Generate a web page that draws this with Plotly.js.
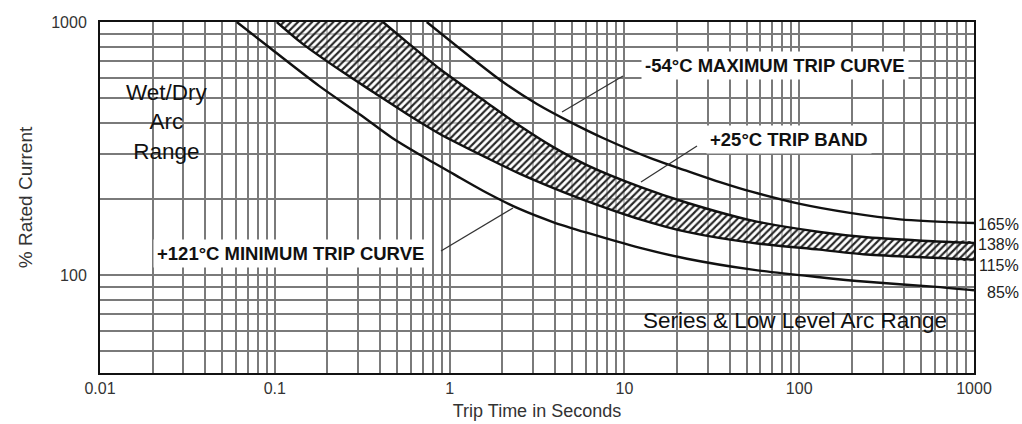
<!DOCTYPE html>
<html>
<head>
<meta charset="utf-8">
<script src="https://cdn.plot.ly/plotly-3.0.1.min.js"></script>
<style>
  html, body { margin: 0; padding: 0; background: #ffffff; }
  #chart { width: 1022px; height: 424px; }
</style>
</head>
<body>
<div id="chart"></div>
<script>
// ---- Data (trip time in s, % rated current) ----
const minT  = [0.0606, 0.094, 0.18, 0.31, 0.47, 0.68, 1.05, 1.64, 2.53, 3.9, 6.1, 12.3, 22.8, 54, 131, 244, 583, 1000];
const minI  = [1000, 789, 558, 429, 348, 298, 251, 211, 182, 162, 147, 128, 116, 105, 98, 94, 90, 87];

const lowT  = [0.1026, 0.145, 0.245, 0.365, 0.57, 0.88, 1.64, 2.53, 3.9, 6.1, 12.3, 22.8, 54, 131, 244, 583, 1000];
const lowI  = [1000, 818, 634, 529, 433, 361, 290, 251, 221, 196, 166, 148, 134, 126, 120.5, 117, 115];

const upT   = [0.416, 0.57, 0.88, 1.64, 2.53, 3.9, 6.1, 12.3, 22.8, 54, 131, 244, 583, 1000];
const upI   = [1000, 833, 652, 479, 388, 321, 272, 223, 193, 164, 148, 141, 136, 134];

const maxT  = [0.74, 1.36, 2.02, 3.16, 4.88, 7.54, 14.6, 22.8, 35.2, 54, 101, 195, 377, 1000];
const maxI  = [1000, 714, 579, 474, 403, 348, 287, 258, 233, 213, 191, 176, 166, 160.5];

const xTickDecades = [0.01, 0.1, 1, 10, 100, 1000];
const xTickLabels  = ['0.01', '0.1', '1', '10', '100', '1000'];
const yTickDecades = [100, 1000];
const yTickLabels  = ['100', '1000'];
const endLabels    = ['165%', '138%', '115%', '85%'];
const curveLabels  = ['-54°C MAXIMUM TRIP CURVE', '+25°C TRIP BAND', '+121°C MINIMUM TRIP CURVE'];
const regionLabels = ['Wet/Dry<br>Arc<br>Range', 'Series &amp; Low Level Arc Range'];

// ---- grid tick builders (1..9 multiples per decade) ----
function logGrid(minExp, maxExp, lo, hi) {
  const v = [];
  for (let e = minExp; e <= maxExp; e++) {
    for (let m = 1; m <= 9; m++) {
      const val = m * Math.pow(10, e);
      if (val >= lo * 0.999 && val <= hi * 1.001) v.push(+val.toPrecision(3));
    }
  }
  return v;
}
function labelsFor(vals, decades, labels) {
  return vals.map(v => {
    const i = decades.findIndex(d => Math.abs(d - v) / d < 1e-6);
    return i >= 0 ? labels[i] : '';
  });
}
const xVals = logGrid(-2, 3, 0.01, 1000);
const yVals = logGrid(1, 3, 50, 1000);

const FONT = 'Arial, "Liberation Sans", "Helvetica", sans-serif';
const curveLine = { color: '#111', width: 2.4, shape: 'spline', smoothing: 0.8 };

const bandX = lowT.concat(upT.slice().reverse());
const bandY = lowI.concat(upI.slice().reverse());

const traces = [
  { x: bandX, y: bandY, type: 'scatter', mode: 'lines', fill: 'toself',
    fillcolor: 'rgba(255,255,255,0)',
    fillpattern: { shape: '/', fgcolor: '#262626', bgcolor: 'rgba(255,255,255,0.55)', size: 5, solidity: 0.42 },
    line: { width: 0, shape: 'spline', smoothing: 0.8 }, hoverinfo: 'skip', showlegend: false },
  { x: minT, y: minI, type: 'scatter', mode: 'lines', line: curveLine, name: '+121°C minimum', showlegend: false },
  { x: lowT, y: lowI, type: 'scatter', mode: 'lines', line: curveLine, name: '+25°C band low', showlegend: false },
  { x: upT,  y: upI,  type: 'scatter', mode: 'lines', line: curveLine, name: '+25°C band high', showlegend: false },
  { x: maxT, y: maxI, type: 'scatter', mode: 'lines', line: curveLine, name: '-54°C maximum', showlegend: false }
];

// pixel -> paper helpers for annotation placement (plot area 100..974 x, 22..373 y)
const L = 100, R = 48, T = 22, B = 51, W = 1022, H = 424;
const PW = W - L - R, PH = H - T - B;
const px = x => (x - L) / PW;
const py = y => (H - B - y) / PH;

const boldFont = { family: FONT, size: 18.5, color: '#111', weight: 'bold' };
const annotations = [
  { text: curveLabels[0], x: px(641), y: py(65), xref: 'paper', yref: 'paper', xanchor: 'left', yanchor: 'middle',
    showarrow: false, font: boldFont, bgcolor: '#ffffff', borderpad: 3 },
  { text: curveLabels[1], x: px(706), y: py(139), xref: 'paper', yref: 'paper', xanchor: 'left', yanchor: 'middle',
    showarrow: false, font: boldFont, bgcolor: '#ffffff', borderpad: 3 },
  { text: curveLabels[2], x: px(153), y: py(254), xref: 'paper', yref: 'paper', xanchor: 'left', yanchor: 'middle',
    showarrow: false, font: boldFont, bgcolor: '#ffffff', borderpad: 3 },
  { text: regionLabels[0], x: px(167), y: py(122), xref: 'paper', yref: 'paper', xanchor: 'center', yanchor: 'middle',
    align: 'center', showarrow: false, font: { family: FONT, size: 22.5, color: '#111' } },
  { text: regionLabels[1], x: px(641), y: py(320), xref: 'paper', yref: 'paper', xanchor: 'left', yanchor: 'middle',
    showarrow: false, font: { family: FONT, size: 22.5, color: '#111' } },
  { text: endLabels[0], x: px(1021), y: py(224), xref: 'paper', yref: 'paper', xanchor: 'right', yanchor: 'middle',
    showarrow: false, font: { family: FONT, size: 16, color: '#222' } },
  { text: endLabels[1], x: px(1021), y: py(244), xref: 'paper', yref: 'paper', xanchor: 'right', yanchor: 'middle',
    showarrow: false, font: { family: FONT, size: 16, color: '#222' } },
  { text: endLabels[2], x: px(1021), y: py(265), xref: 'paper', yref: 'paper', xanchor: 'right', yanchor: 'middle',
    showarrow: false, font: { family: FONT, size: 16, color: '#222' } },
  { text: endLabels[3], x: px(1021), y: py(292), xref: 'paper', yref: 'paper', xanchor: 'right', yanchor: 'middle',
    showarrow: false, font: { family: FONT, size: 16, color: '#222' } }
];

const leader = { color: '#333', width: 1.3 };
const shapes = [
  { type: 'line', xref: 'paper', yref: 'paper', x0: px(562), y0: py(112), x1: px(623), y1: py(76), line: leader },
  { type: 'line', xref: 'paper', yref: 'paper', x0: px(641), y0: py(182), x1: px(697), y1: py(146), line: leader },
  { type: 'line', xref: 'paper', yref: 'paper', x0: px(441), y0: py(251), x1: px(513), y1: py(208), line: leader }
];

const gridColor = '#7a7a7a';
const layout = {
  width: W, height: H,
  margin: { l: L, r: R, t: T, b: B, pad: 0 },
  paper_bgcolor: '#ffffff', plot_bgcolor: '#ffffff',
  showlegend: false, hovermode: false,
  font: { family: FONT, color: '#222' },
  xaxis: {
    type: 'log', range: [-2, 3], tickmode: 'array', tickvals: xVals, ticktext: labelsFor(xVals, xTickDecades, xTickLabels),
    showgrid: true, gridcolor: gridColor, gridwidth: 1.6, ticks: '', zeroline: false,
    showline: true, mirror: true, linecolor: '#111', linewidth: 2,
    tickfont: { family: FONT, size: 16, color: '#333' },
    title: { text: 'Trip Time in Seconds', font: { family: FONT, size: 18, color: '#333' }, standoff: 8 }
  },
  yaxis: {
    type: 'log', range: [Math.log10(41), 3], tickmode: 'array', tickvals: yVals, ticktext: labelsFor(yVals, yTickDecades, yTickLabels),
    showgrid: true, gridcolor: gridColor, gridwidth: 1.6, ticks: '', zeroline: false,
    showline: true, mirror: true, linecolor: '#111', linewidth: 2,
    tickfont: { family: FONT, size: 16, color: '#333' }, ticklabelstandoff: 8,
    title: { text: '% Rated Current', font: { family: FONT, size: 19, color: '#333' }, standoff: 14 }
  },
  annotations: annotations,
  shapes: shapes
};

Plotly.newPlot('chart', traces, layout, { displayModeBar: false, responsive: false });
</script>
</body>
</html>
